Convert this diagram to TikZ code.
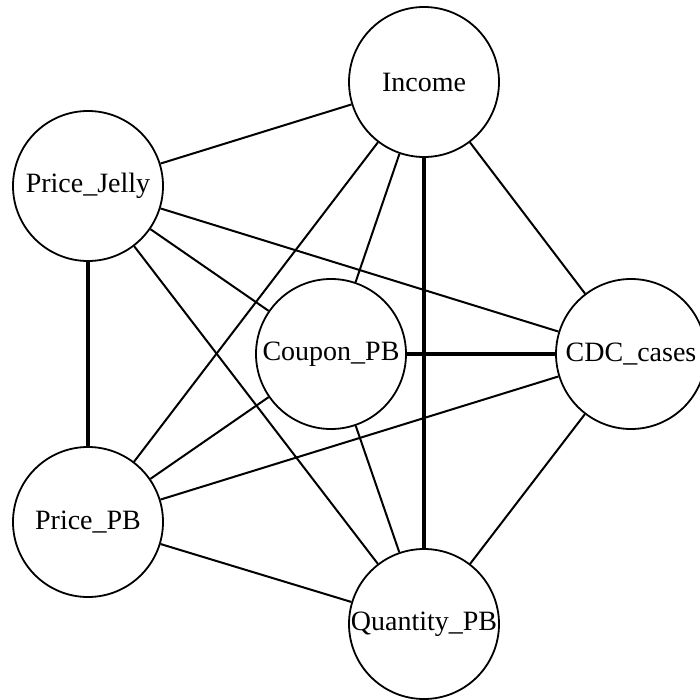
\documentclass[tikz,border=0pt]{standalone}
\usepackage{fontspec}
\setmainfont{Liberation Serif}
\begin{document}
\begin{tikzpicture}[x=1pt,y=1pt,yscale=-1,xscale=1,
  var/.style={draw,circle,line width=1.8pt,minimum size=150pt,inner sep=0pt,font=\fontsize{28}{30}\selectfont},
  link/.style={line width=2pt},
  strong/.style={line width=3.4pt}]
\useasboundingbox (0,0) rectangle (699,700);
%Shape: Circle [income] 
\node [var] (income) at (424,82) {Income};
%Shape: Circle [price jelly] 
\node [var] (pjelly) at (88,186) {Price\_Jelly};
%Shape: Circle [coupon] 
\node [var] (coupon) at (331,354) {Coupon\_PB};
%Shape: Circle [cdc] 
\node [var] (cdc) at (631,354) {CDC\_cases};
%Shape: Circle [price pb] 
\node [var] (ppb) at (88,522) {Price\_PB};
%Shape: Circle [quantity] 
\node [var] (qpb) at (424,624) {Quantity\_PB};

% Thin edges
\draw [link] (income) -- (pjelly);
\draw [link] (income) -- (coupon);
\draw [link] (income) -- (cdc);
\draw [link] (income) -- (ppb);
\draw [link] (pjelly) -- (coupon);
\draw [link] (pjelly) -- (cdc);
\draw [link] (pjelly) -- (qpb);
\draw [link] (coupon) -- (ppb);
\draw [link] (coupon) -- (qpb);
\draw [link] (cdc) -- (ppb);
\draw [link] (cdc) -- (qpb);
\draw [link] (ppb) -- (qpb);
% Thick edges
\draw [strong] (pjelly) -- (ppb);
\draw [strong] (coupon) -- (cdc);
\draw [strong] (income) -- (qpb);
\end{tikzpicture}
\end{document}
